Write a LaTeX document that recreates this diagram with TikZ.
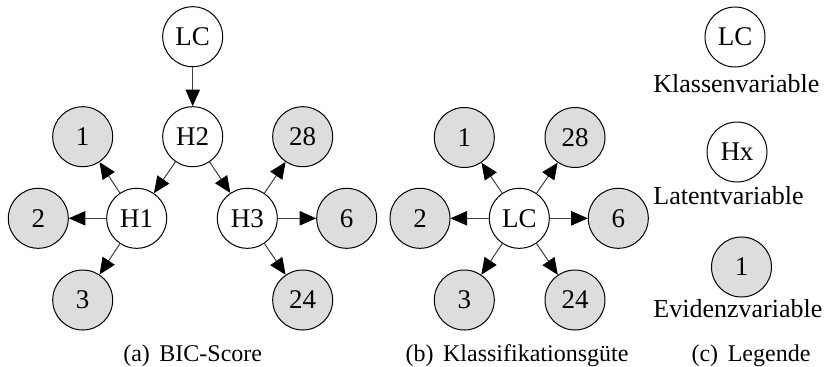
\documentclass[tikz,border=0pt]{standalone}
\usepackage{fontspec}
\setmainfont{Liberation Serif}
\usetikzlibrary{arrows.meta}
\definecolor{evfill}{HTML}{DDDDDD}
\tikzset{
  var/.style={circle,draw=black,line width=0.5pt,minimum size=30pt,inner sep=0pt,font=\fontsize{13.5}{16}\selectfont},
  latent/.style={var,fill=white},
  evid/.style={var,fill=evfill},
  arr/.style={draw=black!75,line width=0.5pt,-{Triangle[length=8.3pt,width=7.2pt,color=black]}},
  lbl/.style={font=\fontsize{13}{15}\selectfont,inner sep=0pt},
  captext/.style={font=\fontsize{12}{15}\selectfont,inner sep=0pt,anchor=base},
}
\begin{document}
\begin{tikzpicture}[x=0.5pt,y=-0.5pt]
\useasboundingbox (0,0) rectangle (831,366);
% (a)
\node[latent] (aLC) at (192.7,36.7) {LC};
\node[latent] (aH2) at (192.7,136.7) {H2};
\node[latent] (aH1) at (136.7,218.3) {H1};
\node[latent] (aH3) at (247.3,218.3) {H3};
\node[evid] (a1) at (82.7,136.7) {1};
\node[evid] (a2) at (38.3,218.3) {2};
\node[evid] (a3) at (82.7,300) {3};
\node[evid] (a28) at (302.7,136.7) {28};
\node[evid] (a6) at (346.7,218.3) {6};
\node[evid] (a24) at (302.7,300) {24};
\draw[arr] (aLC) -- (aH2);
\draw[arr] (aH2) -- (aH1);
\draw[arr] (aH2) -- (aH3);
\draw[arr] (aH1) -- (a1);
\draw[arr] (aH1) -- (a2);
\draw[arr] (aH1) -- (a3);
\draw[arr] (aH3) -- (a28);
\draw[arr] (aH3) -- (a6);
\draw[arr] (aH3) -- (a24);
\node[captext] (capa) at (192.7,361) {(a)\hspace{0.4em}BIC-Score};
% (b)
\node[latent] (bLC) at (519.3,218.3) {LC};
\node[evid] (b1) at (464.3,137.5) {1};
\node[evid] (b28) at (575,137.5) {28};
\node[evid] (b2) at (420,218.3) {2};
\node[evid] (b6) at (618.3,218.3) {6};
\node[evid] (b3) at (464.3,300) {3};
\node[evid] (b24) at (575,300) {24};
\draw[arr] (bLC) -- (b1);
\draw[arr] (bLC) -- (b28);
\draw[arr] (bLC) -- (b2);
\draw[arr] (bLC) -- (b6);
\draw[arr] (bLC) -- (b3);
\draw[arr] (bLC) -- (b24);
\node[captext] (capb) at (517,361) {(b)\hspace{0.4em}Klassifikationsgüte};
% (c)
\node[latent] (cLC) at (735,37) {LC};
\node[lbl,anchor=base west] (tK) at (653,92) {Klassenvariable};
\node[latent] (cHx) at (737,152) {Hx};
\node[lbl,anchor=base west] (tL) at (653,204) {Latentvariable};
\node[evid] (c1) at (741.5,267) {1};
\node[lbl,anchor=base west] (tE) at (653,317) {Evidenzvariable};
\node[captext] (capc) at (751,361) {(c)\hspace{0.4em}Legende};
\end{tikzpicture}
\end{document}
